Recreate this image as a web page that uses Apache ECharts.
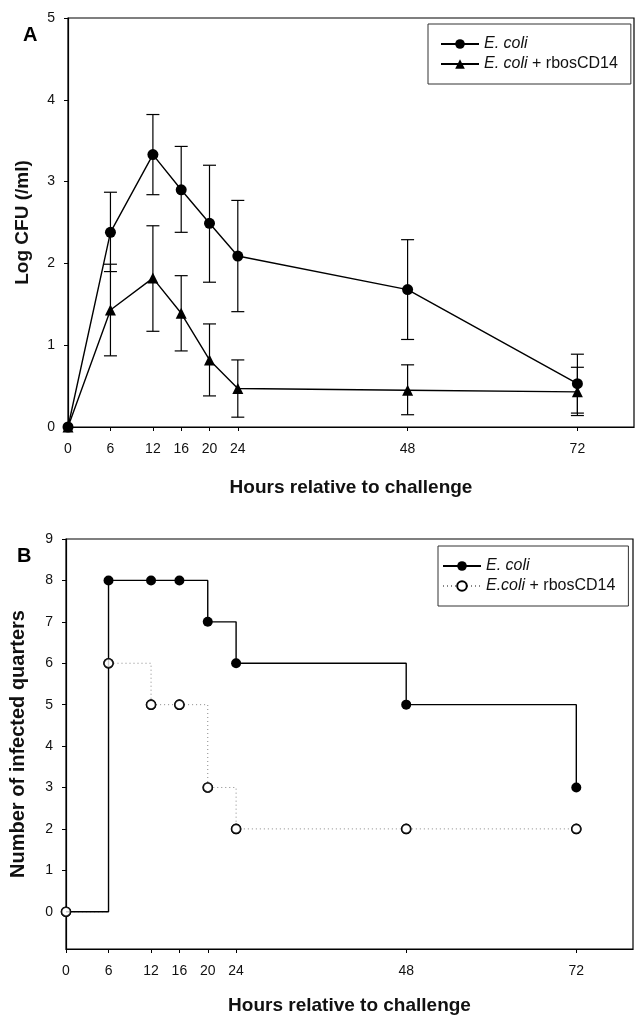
<!DOCTYPE html>
<html>
<head>
<meta charset="utf-8">
<script src="https://cdn.jsdelivr.net/npm/echarts@6/dist/echarts.min.js"></script>
<style>
  html, body { margin: 0; padding: 0; background: #fff; }
  #chart { width: 637px; height: 1017px; }
</style>
</head>
<body>
<div id="chart"></div>
<script>
// time points (hours relative to challenge)
const hours = [0, 6, 12, 16, 20, 24, 48, 72];

// panel A: log CFU per ml, mean and error bar ends
const cfuEcoli = [0, 2.38, 3.33, 2.90, 2.49, 2.09, 1.68, 0.53];
const cfuEcoliLow = [null, 1.90, 2.84, 2.38, 1.77, 1.41, 1.07, 0.17];
const cfuEcoliHigh = [null, 2.87, 3.82, 3.43, 3.20, 2.77, 2.29, 0.89];
const cfuCD14 = [0, 1.43, 1.82, 1.39, 0.82, 0.47, 0.45, 0.43];
const cfuCD14Low = [null, 0.87, 1.17, 0.93, 0.38, 0.12, 0.15, 0.14];
const cfuCD14High = [null, 1.99, 2.46, 1.85, 1.26, 0.82, 0.76, 0.73];

// panel B: number of infected quarters
const infectedEcoli = [0, 8, 8, 8, 7, 6, 5, 3];
const infectedCD14 = [0, 6, 5, 5, 3, 2, 2, 2];

const yTicksB = [0, 1, 2, 3, 4, 5, 6, 7, 8, 9];

const FONT = '"Liberation Sans", Arial, sans-serif';

const pairs = (ys) => hours.map((h, i) => [h, ys[i]]);
const errRows = (lo, hi) => hours.map((h, i) => [h, lo[i], hi[i]]).filter(r => r[1] !== null);

// 误差线
const renderErr = (params, api) => {
  const x = api.value(0);
  const lo = api.coord([x, api.value(1)]);
  const hi = api.coord([x, api.value(2)]);
  const w = 6.5;
  const st = { stroke: '#000', lineWidth: 1.2 };
  return {
    type: 'group',
    children: [
      { type: 'line', shape: { x1: lo[0], y1: lo[1], x2: hi[0], y2: hi[1] }, style: st },
      { type: 'line', shape: { x1: lo[0] - w, y1: lo[1], x2: lo[0] + w, y2: lo[1] }, style: st },
      { type: 'line', shape: { x1: hi[0] - w, y1: hi[1], x2: hi[0] + w, y2: hi[1] }, style: st }
    ]
  };
};

const nameStyle = (size) => ({ color: '#111', fontFamily: FONT, fontSize: size, fontWeight: 'bold' });

const axisCommon = {
  axisLine: { show: true, onZero: false, lineStyle: { color: '#000', width: 1.2 } },
  axisTick: { show: true, length: 4, lineStyle: { color: '#000' } },
  splitLine: { show: false },
  axisLabel: { color: '#111', fontFamily: FONT, fontSize: 14 },
  nameTextStyle: nameStyle(19)
};

const xAxis = (gridIndex, gap) => ({
  ...axisCommon,
  type: 'value',
  gridIndex,
  min: 0,
  max: 80,
  name: 'Hours relative to challenge',
  nameLocation: 'middle',
  nameGap: gap,
  axisTick: { ...axisCommon.axisTick, customValues: hours },
  axisLabel: { ...axisCommon.axisLabel, margin: 15, customValues: hours }
});

const richLegend = {
  i: { fontStyle: 'italic', fontFamily: FONT, fontSize: 16, color: '#111' },
  n: { fontFamily: FONT, fontSize: 16, color: '#111' }
};

const legendBox = (left, top, padLeft, names) => ({
  data: names,
  orient: 'vertical',
  left, top,
  padding: [12, 13, 12, padLeft],
  itemGap: 4,
  itemWidth: 38,
  itemHeight: 12,
  borderColor: '#333',
  borderWidth: 1,
  backgroundColor: '#fff',
  formatter: (name) => {
    if (name.indexOf('E.coli') === 0) return '{i|E.coli}{n| + rbosCD14}';
    if (name.indexOf(' + ') > 0) return '{i|E. coli}{n| + rbosCD14}';
    return '{i|E. coli}';
  },
  textStyle: { rich: richLegend }
});

const chart = echarts.init(document.getElementById('chart'));

const option = {
  animation: false,
  backgroundColor: '#fff',
  title: [
    { text: 'A', left: 23, top: 25, padding: 0, textStyle: { fontFamily: FONT, fontSize: 20, fontWeight: 'bold', color: '#000' } },
    { text: 'B', left: 17, top: 546, padding: 0, textStyle: { fontFamily: FONT, fontSize: 20, fontWeight: 'bold', color: '#000' } }
  ],
  grid: [
    { left: 68, top: 18, right: 3, height: 409, show: true, borderColor: '#000', borderWidth: 1.2 },
    { left: 66, top: 539, right: 4, height: 410, show: true, borderColor: '#000', borderWidth: 1.2 }
  ],
  legend: [
    legendBox(428, 24, 12, ['E. coli', 'E. coli + rbosCD14']),
    legendBox(438, 546, 4, ['E. coli ', 'E.coli + rbosCD14'])
  ],
  xAxis: [xAxis(0, 51), xAxis(1, 47)],
  yAxis: [
    {
      ...axisCommon,
      type: 'value',
      gridIndex: 0,
      min: 0,
      max: 5,
      interval: 1,
      name: 'Log CFU (/ml)',
      nameLocation: 'middle',
      nameGap: 36,
      axisLabel: { ...axisCommon.axisLabel, margin: 13 }
    },
    {
      ...axisCommon,
      type: 'value',
      gridIndex: 1,
      min: -0.9,
      max: 9,
      name: 'Number of infected quarters',
      nameLocation: 'middle',
      nameGap: 38,
      nameTextStyle: nameStyle(20),
      axisTick: { ...axisCommon.axisTick, customValues: yTicksB },
      axisLabel: { ...axisCommon.axisLabel, margin: 13, customValues: yTicksB }
    }
  ],
  series: [
    {
      type: 'custom',
      xAxisIndex: 0, yAxisIndex: 0,
      renderItem: renderErr,
      data: errRows(cfuEcoliLow, cfuEcoliHigh),
      z: 1
    },
    {
      type: 'custom',
      xAxisIndex: 0, yAxisIndex: 0,
      renderItem: renderErr,
      data: errRows(cfuCD14Low, cfuCD14High),
      z: 1
    },
    {
      name: 'E. coli + rbosCD14',
      type: 'line',
      xAxisIndex: 0, yAxisIndex: 0,
      data: pairs(cfuCD14),
      symbol: 'triangle',
      symbolSize: 11,
      color: '#000',
      lineStyle: { color: '#000', width: 1.4 },
      itemStyle: { color: '#000' },
      z: 2
    },
    {
      name: 'E. coli',
      type: 'line',
      xAxisIndex: 0, yAxisIndex: 0,
      data: pairs(cfuEcoli),
      symbol: 'circle',
      symbolSize: 11,
      color: '#000',
      lineStyle: { color: '#000', width: 1.4 },
      itemStyle: { color: '#000' },
      z: 3
    },
    {
      name: 'E.coli + rbosCD14',
      type: 'line',
      xAxisIndex: 1, yAxisIndex: 1,
      data: pairs(infectedCD14),
      step: 'end',
      symbol: 'circle',
      symbolSize: 9,
      showAllSymbol: true,
      color: '#888',
      lineStyle: { color: '#888', width: 1, type: [1, 3] },
      itemStyle: { color: '#fff', borderColor: '#000', borderWidth: 1.6 },
      z: 2
    },
    {
      name: 'E. coli ',
      type: 'line',
      xAxisIndex: 1, yAxisIndex: 1,
      data: pairs(infectedEcoli),
      step: 'end',
      symbol: (val) => (val[0] === 0 ? 'none' : 'circle'),
      symbolSize: 10,
      showAllSymbol: true,
      color: '#000',
      lineStyle: { color: '#000', width: 1.4 },
      itemStyle: { color: '#000' },
      z: 3
    },
    {
      // open circles drawn again on top so the solid line does not cross them
      type: 'scatter',
      xAxisIndex: 1, yAxisIndex: 1,
      data: pairs(infectedCD14),
      symbol: 'circle',
      symbolSize: 9,
      itemStyle: { color: '#fff', borderColor: '#000', borderWidth: 1.6 },
      z: 4
    }
  ]
};

chart.setOption(option);
</script>
</body>
</html>
